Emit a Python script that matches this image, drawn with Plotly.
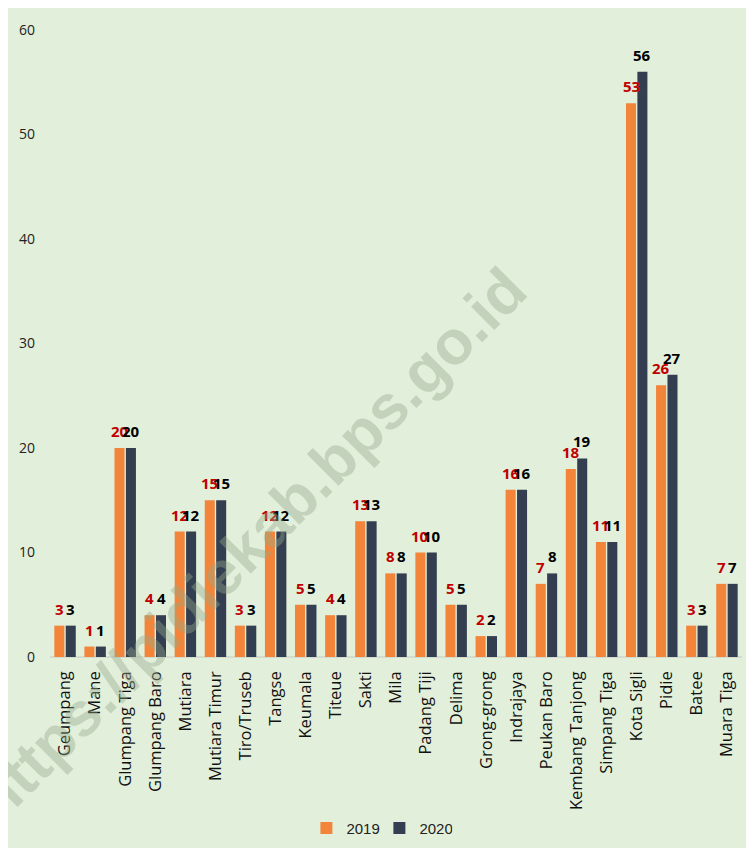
import plotly.graph_objects as go

categories = ["Geumpang", "Mane", "Glumpang Tiga", "Glumpang Baro", "Mutiara",
              "Mutiara Timur", "Tiro/Truseb", "Tangse", "Keumala", "Titeue",
              "Sakti", "Mila", "Padang Tiji", "Delima", "Grong-grong",
              "Indrajaya", "Peukan Baro", "Kembang Tanjong", "Simpang Tiga",
              "Kota Sigli", "Pidie", "Batee", "Muara Tiga"]
values_2019 = [3, 1, 20, 4, 12, 15, 3, 12, 5, 4, 13, 8, 10, 5, 2, 16, 7, 18, 11, 53, 26, 3, 7]
values_2020 = [3, 1, 20, 4, 12, 15, 3, 12, 5, 4, 13, 8, 10, 5, 2, 16, 8, 19, 11, 56, 27, 3, 7]
y_ticks = [0, 10, 20, 30, 40, 50, 60]
watermark = "https://pidiekab.bps.go.id"

ORANGE = "#F2853A"
DARK = "#333F50"
BG = "#E2EFDA"

fig = go.Figure()
fig.add_trace(go.Bar(name="2019", x=categories, y=values_2019,
                     marker=dict(color=ORANGE, line=dict(width=0))))
fig.add_trace(go.Bar(name="2020", x=categories, y=values_2020,
                     marker=dict(color=DARK, line=dict(width=0))))

ann = []
for c, v in zip(categories, values_2019):
    ann.append(dict(x=c, y=v, text=str(v), xshift=-5.7, yshift=5, showarrow=False,
                    yanchor="bottom", xanchor="center",
                    font=dict(family="Open Sans", size=15, color="#C00000", weight="bold")))
for c, v in zip(categories, values_2020):
    ann.append(dict(x=c, y=v, text=str(v), xshift=5.7, yshift=5, showarrow=False,
                    yanchor="bottom", xanchor="center",
                    font=dict(family="Open Sans", size=15, color="#000000", weight="bold")))

ann.append(dict(xref="paper", yref="paper", x=0.288, y=0.18,
                xanchor="center", yanchor="middle",
                text=watermark, textangle=-45, showarrow=False,
                font=dict(family="Liberation Sans", size=62, color="rgba(150,170,140,0.40)",
                          weight="bold")))

fig.update_layout(
    width=746, height=840,
    margin=dict(l=42, r=12, t=22, b=191, autoexpand=False),
    paper_bgcolor=BG, plot_bgcolor=BG,
    barmode="group", bargap=0.242, bargroupgap=0.12,
    font=dict(family="Open Sans", color="#222222"),
    annotations=ann,
    showlegend=True,
    legend=dict(orientation="h", x=0.476, xanchor="center", y=-0.273, yanchor="middle",
                font=dict(family="Liberation Sans", size=15, color="#222222"),
                itemwidth=30, entrywidth=28, bgcolor="rgba(0,0,0,0)"),
    xaxis=dict(tickangle=-90, tickfont=dict(family="Open Sans", size=16.5, color="#111111"),
               showgrid=False, showline=False, ticks="", ticklabelstandoff=10,
               automargin=False),
    yaxis=dict(range=[0, 60], tickvals=y_ticks, showgrid=False, zeroline=True,
               zerolinecolor="#D4DCCD", zerolinewidth=2, showline=False, ticks="",
               tickfont=dict(size=14, color="#222222"), ticklabelstandoff=14,
               automargin=False),
)

fig.write_html("out.html")
